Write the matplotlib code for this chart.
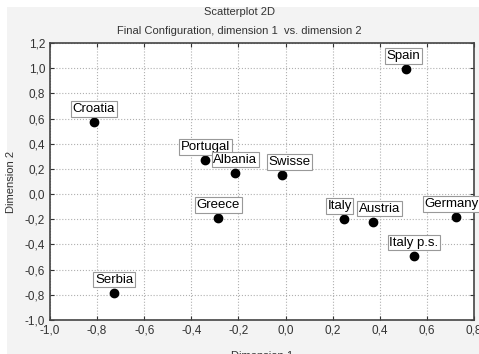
import matplotlib.pyplot as plt
from matplotlib.patches import Rectangle
from matplotlib.ticker import FuncFormatter

countries = ["Croatia", "Spain", "Portugal", "Albania", "Swisse", "Greece",
             "Italy", "Austria", "Germany", "Italy p.s.", "Serbia"]
dim1 = [-0.813, 0.511, -0.340, -0.213, -0.013, -0.285, 0.247, 0.370, 0.723, 0.545, -0.728]
dim2 = [0.573, 0.994, 0.271, 0.170, 0.152, -0.189, -0.197, -0.22, -0.181, -0.49, -0.784]

xticks = [-1.0, -0.8, -0.6, -0.4, -0.2, 0.0, 0.2, 0.4, 0.6, 0.8]
yticks = [-1.0, -0.8, -0.6, -0.4, -0.2, 0.0, 0.2, 0.4, 0.6, 0.8, 1.0, 1.2]

# horizontal label nudges (points) so the boxes sit as in the original
nudge = {"Swisse": 5, "Italy": -3, "Austria": 5, "Spain": -2, "Germany": -3}

plt.rcParams['font.family'] = ['Liberation Sans', 'DejaVu Sans']


def comma(v, pos):
    return f"{v:.1f}".replace(".", ",")


fig = plt.figure(figsize=(4.79, 3.54), dpi=100, facecolor="white")
# grey panel with a thin white margin at top and left
fig.patches.append(Rectangle((7 / 479, 0), 1, 1 - 7 / 354, transform=fig.transFigure,
                             fc="#f3f3f3", ec="none", zorder=-10))
ax = fig.add_axes([50 / 479, 1 - 320 / 354, 424 / 479, 277 / 354])
ax.set_zorder(1)
ax.set_facecolor("white")

ax.scatter(dim1, dim2, s=36, color="black", zorder=3)
for name, x, y in zip(countries, dim1, dim2):
    ax.annotate(name, (x, y), xytext=(nudge.get(name, 0), 5), textcoords="offset points",
                ha="center", va="bottom", fontsize=9.5, zorder=4, annotation_clip=False,
                bbox=dict(boxstyle="square,pad=0.12", fc="white", ec="#999999", lw=0.8))

ax.set_xlim(-1.0, 0.8)
ax.set_ylim(-1.0, 1.2)
ax.set_xticks(xticks)
ax.set_yticks(yticks)
ax.xaxis.set_major_formatter(FuncFormatter(comma))
ax.yaxis.set_major_formatter(FuncFormatter(comma))
ax.tick_params(direction="in", length=3, labelsize=8.5, top=True, right=True,
               colors="#333333", labelcolor="#333333")
ax.grid(True, linestyle=":", color="#b0b0b0", linewidth=0.8)
for sp in ax.spines.values():
    sp.set_color("#444444")
    sp.set_linewidth(1.2)

ax.set_xlabel("Dimension 1", fontsize=8, color="#333333", labelpad=10)
ax.set_ylabel("Dimension 2", fontsize=8, color="#333333", labelpad=6)
fig.text(0.5, 1 - 12 / 354, "Scatterplot 2D", ha="center", va="center", fontsize=8, color="#333333")
fig.text(0.5, 1 - 31 / 354, "Final Configuration, dimension 1  vs. dimension 2",
         ha="center", va="center", fontsize=8, color="#333333")

fig.savefig("out.png", dpi=100, facecolor=fig.get_facecolor())
